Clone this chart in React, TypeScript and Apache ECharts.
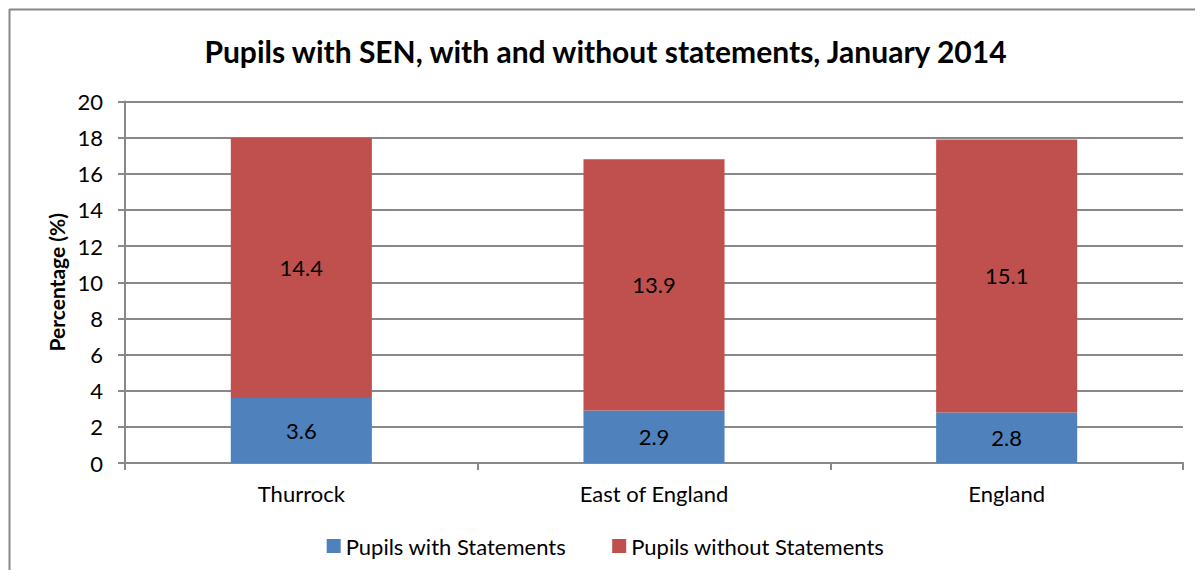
import React, { useEffect, useRef } from "react";
import * as echarts from "echarts";

const categories = ["Thurrock", "East of England", "England"];
const withStatements = [3.6, 2.9, 2.8];
const withoutStatements = [14.4, 13.9, 15.1];
const seriesNames = ["Pupils with Statements", "Pupils without Statements"];
const titleText = "Pupils with SEN, with and without statements, January 2014";
const yAxisName = "Percentage (%)";

const FONT = "Lato, 'Open Sans', sans-serif";

export default function App() {
  const ref = useRef<HTMLDivElement>(null);
  useEffect(() => {
    if (!ref.current) return;
    const chart = echarts.init(ref.current, undefined, { renderer: "svg" });
    const labelStyle = {
      show: true,
      position: "inside",
      color: "#000",
      fontSize: 22,
      fontFamily: FONT,
      formatter: (p: any) => Number(p.value).toFixed(1),
    };
    chart.setOption({
      animation: false,
      backgroundColor: "#fff",
      textStyle: { fontFamily: FONT },
      title: {
        text: titleText,
        left: "center",
        top: 23,
        textStyle: { fontSize: 30, fontWeight: "bold", color: "#000", fontFamily: FONT },
      },
      graphic: [
        { type: "line", shape: { x1: 1, y1: 1.5, x2: 1200, y2: 1.5 }, style: { stroke: "#888", lineWidth: 2 } },
        { type: "line", shape: { x1: 1.5, y1: 1, x2: 1.5, y2: 600 }, style: { stroke: "#888", lineWidth: 2 } },
      ],
      legend: {
        data: seriesNames,
        top: 522,
        left: "center",
        icon: "rect",
        itemWidth: 14,
        itemHeight: 14,
        itemGap: 46,
        textStyle: { fontSize: 22, color: "#000", fontFamily: FONT, padding: [0, 0, 0, 0] },
      },
      grid: { left: 117, right: 20, top: 93.5, bottom: 107 },
      xAxis: {
        type: "category",
        data: categories,
        boundaryGap: true,
        axisLine: { lineStyle: { color: "#888", width: 2 } },
        axisTick: { show: true, alignWithLabel: false, length: 7, lineStyle: { color: "#888", width: 2 } },
        axisLabel: { color: "#000", fontSize: 22, margin: 19, fontFamily: FONT },
      },
      yAxis: {
        type: "value",
        min: 0,
        max: 20,
        interval: 2,
        name: yAxisName,
        nameLocation: "middle",
        nameGap: 57,
        nameTextStyle: { fontSize: 21, fontWeight: "bold", color: "#000", fontFamily: FONT },
        axisLine: { show: true, lineStyle: { color: "#888", width: 2 } },
        axisTick: { show: true, length: 7, lineStyle: { color: "#888", width: 2 } },
        axisLabel: { color: "#000", fontSize: 22, margin: 22, fontFamily: FONT },
        splitLine: { lineStyle: { color: "#888", width: 2 } },
      },
      series: [
        {
          name: seriesNames[0],
          type: "bar",
          stack: "total",
          data: withStatements,
          barWidth: "40%",
          itemStyle: { color: "#4F81BD" },
          label: labelStyle,
        },
        {
          name: seriesNames[1],
          type: "bar",
          stack: "total",
          data: withoutStatements,
          barWidth: "40%",
          itemStyle: { color: "#C0504D" },
          label: labelStyle,
        },
      ],
    });
    return () => chart.dispose();
  }, []);
  return <div ref={ref} style={{ width: 1195, height: 562 }} />;
}
